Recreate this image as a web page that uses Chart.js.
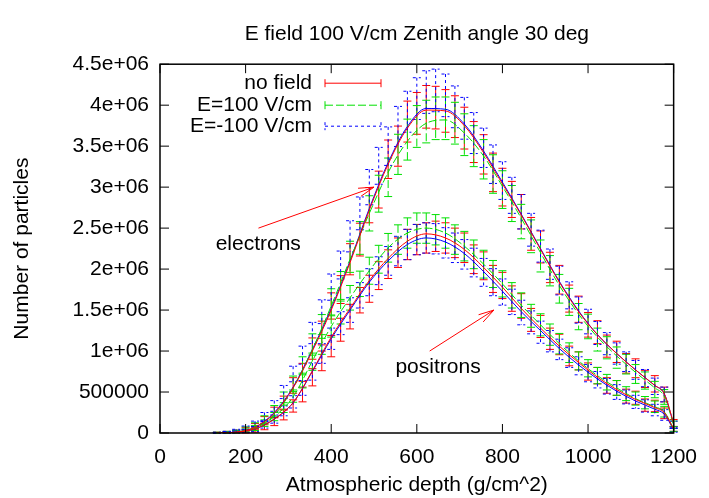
<!DOCTYPE html>
<html>
<head>
<meta charset="utf-8">
<script src="https://cdn.jsdelivr.net/npm/chart.js@4.4.0/dist/chart.umd.min.js"></script>
<style>
  html, body { margin: 0; padding: 0; background: #fff; }
</style>
</head>
<body>
<canvas id="c" width="709" height="498"></canvas>
<script>
// depth bins (g/cm^2) shared by every measured series
const depth = [133, 156, 178, 200, 222, 244, 267, 289, 311, 333, 356, 378, 400, 422, 444, 467, 489, 511, 533, 556,
  578, 600, 622, 644, 667, 689, 711, 733, 756, 778, 800, 822, 844, 867, 889, 911, 933, 956, 978, 1000,
  1022, 1044, 1067, 1089, 1111, 1133, 1156, 1178, 1200];

// electrons, in units of 1e6 particles
const eNoField = [0.0, 0.01, 0.02, 0.04, 0.08, 0.15, 0.25, 0.37, 0.58, 0.74, 1.03, 1.22, 1.55, 1.75, 2.12, 2.36, 2.78, 2.97, 3.34, 3.5,
  3.8, 3.9, 3.98, 3.97, 3.93, 3.86, 3.72, 3.55, 3.4, 3.18, 3.0, 2.85, 2.7, 2.43, 2.27, 2.02, 1.87, 1.64, 1.51, 1.32,
  1.23, 1.06, 0.99, 0.85, 0.79, 0.66, 0.6, 0.47, 0.12];
const eFieldPos = [0.0, 0.01, 0.02, 0.05, 0.09, 0.16, 0.27, 0.42, 0.6, 0.82, 1.08, 1.3, 1.6, 1.8, 2.15, 2.38, 2.68, 2.92, 3.12, 3.4,
  3.58, 3.74, 3.8, 3.84, 3.84, 3.78, 3.64, 3.5, 3.34, 3.16, 2.97, 2.8, 2.58, 2.4, 2.16, 1.98, 1.76, 1.6, 1.42, 1.3,
  1.14, 1.04, 0.92, 0.84, 0.72, 0.64, 0.53, 0.44, 0.1];
const eFieldNeg = [0.0, 0.01, 0.03, 0.06, 0.11, 0.2, 0.33, 0.5, 0.72, 0.95, 1.22, 1.48, 1.78, 2.05, 2.4, 2.68, 3.0, 3.26, 3.5, 3.74,
  3.92, 4.08, 4.16, 4.18, 4.12, 3.98, 3.84, 3.66, 3.48, 3.28, 3.08, 2.9, 2.7, 2.48, 2.28, 2.06, 1.86, 1.68, 1.5, 1.36,
  1.22, 1.09, 0.97, 0.87, 0.77, 0.67, 0.57, 0.47, 0.1];
const eErr = [0.005, 0.01, 0.015, 0.025, 0.035, 0.05, 0.065, 0.08, 0.095, 0.11, 0.13, 0.145, 0.16, 0.17, 0.19, 0.2, 0.215, 0.225, 0.235, 0.245,
  0.25, 0.255, 0.26, 0.26, 0.26, 0.255, 0.255, 0.25, 0.24, 0.235, 0.23, 0.22, 0.21, 0.2, 0.195, 0.185, 0.175, 0.165, 0.16, 0.15,
  0.14, 0.135, 0.13, 0.12, 0.115, 0.105, 0.1, 0.09, 0.045];

// positrons
const pNoField = [0.0, 0.005, 0.01, 0.02, 0.04, 0.08, 0.14, 0.22, 0.33, 0.47, 0.68, 0.88, 1.06, 1.26, 1.42, 1.62, 1.76, 1.92, 2.06, 2.2,
  2.3, 2.36, 2.38, 2.4, 2.38, 2.32, 2.26, 2.12, 2.04, 1.88, 1.8, 1.64, 1.55, 1.38, 1.3, 1.15, 1.08, 0.94, 0.88, 0.75,
  0.7, 0.58, 0.55, 0.45, 0.43, 0.34, 0.33, 0.24, 0.05];
const pFieldPos = [0.0, 0.005, 0.015, 0.03, 0.06, 0.12, 0.2, 0.31, 0.45, 0.64, 0.87, 1.08, 1.3, 1.47, 1.65, 1.82, 1.98, 2.12, 2.26, 2.36,
  2.44, 2.5, 2.5, 2.48, 2.44, 2.36, 2.28, 2.18, 2.06, 1.94, 1.82, 1.68, 1.56, 1.43, 1.32, 1.2, 1.09, 0.98, 0.88, 0.79,
  0.7, 0.62, 0.55, 0.48, 0.42, 0.37, 0.32, 0.26, 0.05];
const pFieldNeg = [0.0, 0.005, 0.01, 0.025, 0.05, 0.1, 0.17, 0.27, 0.38, 0.55, 0.75, 0.97, 1.15, 1.34, 1.5, 1.68, 1.84, 1.98, 2.1, 2.22,
  2.3, 2.36, 2.38, 2.37, 2.32, 2.26, 2.18, 2.08, 1.96, 1.84, 1.72, 1.6, 1.47, 1.35, 1.23, 1.12, 1.02, 0.92, 0.82, 0.73,
  0.65, 0.57, 0.5, 0.44, 0.38, 0.33, 0.28, 0.22, 0.04];
const pErr = [0.01, 0.012, 0.015, 0.02, 0.03, 0.04, 0.05, 0.06, 0.075, 0.09, 0.105, 0.12, 0.13, 0.14, 0.15, 0.155, 0.165, 0.17, 0.175, 0.18,
  0.185, 0.185, 0.185, 0.185, 0.185, 0.18, 0.18, 0.175, 0.17, 0.165, 0.16, 0.155, 0.15, 0.14, 0.135, 0.13, 0.125, 0.12, 0.11, 0.105,
  0.1, 0.095, 0.09, 0.085, 0.08, 0.075, 0.07, 0.065, 0.03];

// smooth fitted curves
const fitDepth = [133, 178, 222, 267, 311, 356, 400, 444, 489, 533, 578, 622, 667, 711, 756, 800, 844, 889, 933, 978, 1022, 1067, 1111, 1156, 1178, 1200];
const eFitNoField = [0, 0.01, 0.07, 0.24, 0.55, 1.0, 1.5, 2.08, 2.72, 3.28, 3.72, 3.94, 3.93, 3.75, 3.42, 3.04, 2.66, 2.24, 1.84, 1.48, 1.2, 0.97, 0.77, 0.58, 0.48, 0.12];
const eFitPos = [0, 0.01, 0.07, 0.22, 0.55, 1.02, 1.55, 2.12, 2.68, 3.18, 3.56, 3.78, 3.82, 3.66, 3.38, 3.01, 2.62, 2.2, 1.8, 1.45, 1.17, 0.94, 0.74, 0.55, 0.45, 0.1];
const eFitNeg = [0, 0.01, 0.07, 0.25, 0.56, 1.02, 1.52, 2.1, 2.74, 3.3, 3.74, 3.96, 3.95, 3.77, 3.44, 3.06, 2.67, 2.25, 1.85, 1.49, 1.2, 0.97, 0.77, 0.58, 0.48, 0.11];
const pFitNoField = [0, 0.01, 0.05, 0.17, 0.37, 0.76, 1.17, 1.52, 1.86, 2.13, 2.34, 2.43, 2.38, 2.24, 2.02, 1.78, 1.52, 1.28, 1.06, 0.86, 0.68, 0.53, 0.41, 0.31, 0.25, 0.05];
const pFitPos = [0, 0.01, 0.06, 0.2, 0.44, 0.88, 1.3, 1.65, 1.98, 2.26, 2.44, 2.5, 2.44, 2.28, 2.06, 1.82, 1.56, 1.32, 1.09, 0.88, 0.7, 0.55, 0.42, 0.32, 0.26, 0.05];
const pFitNeg = [0, 0.01, 0.05, 0.17, 0.37, 0.75, 1.15, 1.5, 1.84, 2.1, 2.3, 2.38, 2.33, 2.19, 1.97, 1.73, 1.48, 1.25, 1.03, 0.83, 0.66, 0.51, 0.39, 0.29, 0.23, 0.04];

const xTicks = [0, 200, 400, 600, 800, 1000, 1200];
const xTickLabels = ['0', '200', '400', '600', '800', '1000', '1200'];
const yTicks = [0, 0.5, 1, 1.5, 2, 2.5, 3, 3.5, 4, 4.5];
const yTickLabels = ['0', '500000', '1e+06', '1.5e+06', '2e+06', '2.5e+06', '3e+06', '3.5e+06', '4e+06', '4.5e+06'];
const legendLabels = ['no field', 'E=100 V/cm', 'E=-100 V/cm'];

const FONT = "'Liberation Sans', Arial, Helvetica, sans-serif";
const RED = '#ff0000', GREEN = '#00e000', BLUE = '#0000ff';
const styles = [
  { color: RED, dash: [] },
  { color: GREEN, dash: [8, 3] },
  { color: BLUE, dash: [3, 3] }
];

const pts = (xs, ys) => xs.map((x, i) => ({ x: x, y: ys[i] }));

const barSet = (ys, errs, s) => ({
  type: 'line', data: pts(depth, ys), errors: errs, barDash: s.dash,
  borderColor: s.color, showLine: false, pointRadius: 0
});
const fitSet = (ys, s, dash) => ({
  type: 'line', data: pts(fitDepth, ys), borderColor: s.color, borderWidth: 1,
  borderDash: dash, pointRadius: 0, cubicInterpolationMode: 'monotone', fill: false
});

// error bars with caps, drawn under the fitted lines
const errorBars = {
  id: 'errorBars',
  beforeDatasetsDraw(chart) {
    const ctx = chart.ctx, ys = chart.scales.y;
    chart.data.datasets.forEach((ds, i) => {
      if (!ds.errors) return;
      const meta = chart.getDatasetMeta(i);
      ctx.save();
      ctx.strokeStyle = ds.borderColor;
      ctx.lineWidth = 1;
      ctx.setLineDash(ds.barDash);
      meta.data.forEach((pt, j) => {
        const v = ds.data[j].y, e = ds.errors[j];
        const top = ys.getPixelForValue(v + e);
        const bot = ys.getPixelForValue(Math.max(v - e, 0));
        ctx.beginPath();
        ctx.moveTo(pt.x, top); ctx.lineTo(pt.x, bot);
        ctx.moveTo(pt.x - 4, top); ctx.lineTo(pt.x + 4, top);
        ctx.moveTo(pt.x - 4, bot); ctx.lineTo(pt.x + 4, bot);
        ctx.stroke();
      });
      ctx.restore();
    });
  }
};

// gnuplot style box with inward ticks on all sides, key and labels
const frame = {
  id: 'frame',
  afterDatasetsDraw(chart) {
    const ctx = chart.ctx, a = chart.chartArea;
    const xs = chart.scales.x, ys = chart.scales.y;
    const T = 9;
    ctx.save();
    ctx.strokeStyle = '#000';
    ctx.lineWidth = 1;
    ctx.beginPath();
    xTicks.forEach(v => {
      const px = xs.getPixelForValue(v);
      ctx.moveTo(px, a.bottom); ctx.lineTo(px, a.bottom - T);
      ctx.moveTo(px, a.top); ctx.lineTo(px, a.top + T);
    });
    yTicks.forEach(v => {
      const py = ys.getPixelForValue(v);
      ctx.moveTo(a.left, py); ctx.lineTo(a.left + T, py);
      ctx.moveTo(a.right, py); ctx.lineTo(a.right - T, py);
    });
    ctx.stroke();
    ctx.lineWidth = 1.5;
    ctx.strokeRect(a.left, a.top, a.right - a.left, a.bottom - a.top);

    // key
    ctx.font = '21px ' + FONT;
    ctx.fillStyle = '#000';
    ctx.textAlign = 'right';
    ctx.textBaseline = 'middle';
    const rowY = [19, 41, 62];
    legendLabels.forEach((t, i) => {
      const y = a.top + rowY[i];
      ctx.fillText(t, a.left + 152, y);
      const x0 = a.left + 165, x1 = a.left + 221;
      ctx.strokeStyle = styles[i].color;
      ctx.lineWidth = 1;
      ctx.setLineDash(styles[i].dash);
      ctx.beginPath();
      ctx.moveTo(x0, y); ctx.lineTo(x1, y);
      ctx.moveTo(x0, y - 4); ctx.lineTo(x0, y + 4);
      ctx.moveTo(x1, y - 4); ctx.lineTo(x1, y + 4);
      ctx.stroke();
    });
    ctx.setLineDash([]);

    // labels and arrows
    ctx.textAlign = 'left';
    ctx.fillText('electrons', xs.getPixelForValue(130), ys.getPixelForValue(2.3));
    ctx.fillText('positrons', xs.getPixelForValue(550), ys.getPixelForValue(0.8));
    const arrow = (x0, y0, x1, y1) => {
      const ax = xs.getPixelForValue(x0), ay = ys.getPixelForValue(y0);
      const bx = xs.getPixelForValue(x1), by = ys.getPixelForValue(y1);
      const ang = Math.atan2(by - ay, bx - ax), L = 16, w = 0.27;
      ctx.strokeStyle = RED;
      ctx.lineWidth = 1;
      ctx.beginPath();
      ctx.moveTo(ax, ay); ctx.lineTo(bx, by);
      ctx.moveTo(bx - L * Math.cos(ang - w), by - L * Math.sin(ang - w));
      ctx.lineTo(bx, by);
      ctx.lineTo(bx - L * Math.cos(ang + w), by - L * Math.sin(ang + w));
      ctx.stroke();
    };
    arrow(230, 2.5, 500, 3.0);
    arrow(630, 1.0, 780, 1.5);
    ctx.restore();
  }
};

new Chart(document.getElementById('c'), {
  data: {
    datasets: [
      fitSet(eFitNoField, styles[0], []),
      fitSet(pFitNoField, styles[0], []),
      fitSet(eFitPos, styles[1], [8, 3]),
      fitSet(pFitPos, styles[1], [8, 3]),
      fitSet(eFitNeg, styles[2], []),
      fitSet(pFitNeg, styles[2], []),
      barSet(eNoField, eErr, styles[0]),
      barSet(pNoField, pErr, styles[0]),
      barSet(eFieldPos, eErr, styles[1]),
      barSet(pFieldPos, pErr, styles[1]),
      barSet(eFieldNeg, eErr, styles[2]),
      barSet(pFieldNeg, pErr, styles[2])
    ]
  },
  options: {
    responsive: false,
    animation: false,
    devicePixelRatio: 1,
    layout: { padding: { left: 0, right: 35, top: 0, bottom: 0 } },
    plugins: {
      legend: { display: false },
      tooltip: { enabled: false },
      title: {
        display: true,
        fullSize: false,
        text: 'E field 100 V/cm Zenith angle 30 deg',
        color: '#000',
        font: { family: FONT, size: 21, weight: 'normal' },
        padding: { top: 22, bottom: 17 }
      }
    },
    scales: {
      x: {
        type: 'linear', min: 0, max: 1200,
        afterBuildTicks: s => { s.ticks = xTicks.map(v => ({ value: v })); },
        afterFit: s => { s.height = 65; },
        grid: { display: false, drawTicks: false },
        border: { display: false },
        ticks: {
          color: '#000', padding: 12, maxRotation: 0, font: { family: FONT, size: 21 },
          callback: v => xTickLabels[xTicks.indexOf(v)]
        },
        title: {
          display: true, text: 'Atmospheric depth (g/cm^2)', color: '#000',
          font: { family: FONT, size: 21 }, padding: { top: 0, bottom: 0 }
        }
      },
      y: {
        type: 'linear', min: 0, max: 4.5,
        afterBuildTicks: s => { s.ticks = yTicks.map(v => ({ value: v })); },
        afterFit: s => { s.width = 160; },
        grid: { display: false, drawTicks: false },
        border: { display: false },
        ticks: {
          color: '#000', padding: 11, font: { family: FONT, size: 21 },
          callback: v => yTickLabels[yTicks.indexOf(v)]
        },
        title: {
          display: true, text: 'Number of particles', color: '#000',
          font: { family: FONT, size: 21 }, padding: { top: 10, bottom: 0 }
        }
      }
    }
  },
  plugins: [errorBars, frame]
});
</script>
</body>
</html>
